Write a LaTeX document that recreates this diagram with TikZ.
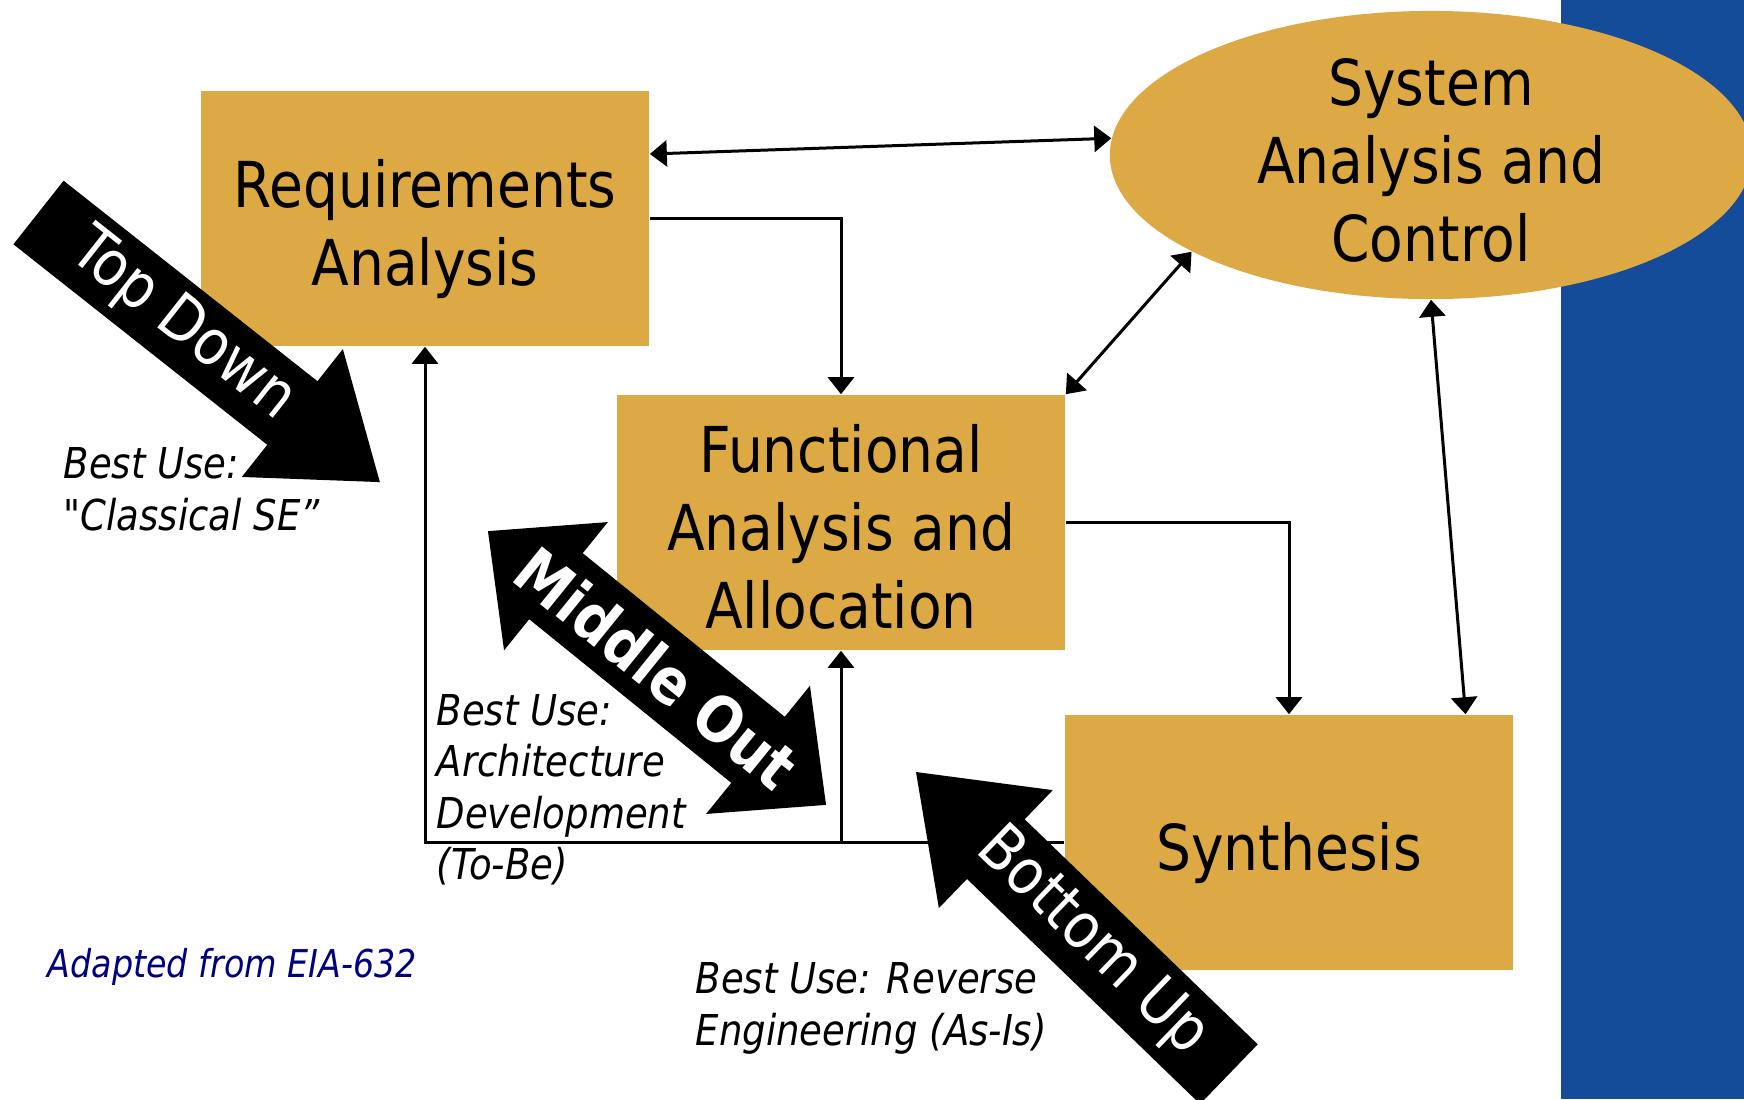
\documentclass[tikz,border=0pt]{standalone}
\usepackage{fontspec}
\setmainfont{DejaVu Sans}[FakeStretch=0.87]
\newfontfamily\plainfont{DejaVu Sans}[FakeStretch=0.87]
\usetikzlibrary{arrows.meta,shapes.geometric}
\definecolor{gold}{RGB}{220,169,69}
\definecolor{barblue}{RGB}{21,76,153}
\definecolor{navy}{RGB}{0,0,128}
\newcommand{\topstrut}{\rule{0pt}{19.5pt}}
\newcommand{\botstrut}{\rule[-3.5pt]{0pt}{3.5pt}}
\begin{document}
\begin{tikzpicture}[x=0.01cm, y=-0.01cm,
  every node/.style={font=\fontsize{18}{22.2}\selectfont},
  block/.style={fill=gold,minimum width=4.48cm,minimum height=2.55cm,align=center,inner sep=0pt},
  oval/.style={ellipse,fill=gold,minimum width=6.42cm,minimum height=2.88cm,align=center,
    inner xsep=0pt,inner ysep=-0.2cm},
  link/.style={line width=0.03cm},
  note/.style={font=\fontsize{12.1}{14.65}\selectfont\itshape,align=left,anchor=west,inner sep=0pt},
  fatlab/.style={text=white,inner sep=0pt},
  >={Triangle[length=0.17cm,width=0.26cm]}]
  \useasboundingbox (0,0) rectangle (1744,1099);
  \fill[white] (0,0) rectangle (1744,1099);
  \fill[barblue] (1561,0) rectangle (1744,1099);
  % process boxes
  \node[oval]  (sac) at (1431,155)   {\topstrut System\\Analysis and\\Control\botstrut};
  \node[block] (req) at (425,218.5)  {\topstrut Requirements\\Analysis\botstrut};
  \node[block] (fun) at (841,522.5)  {\topstrut Functional\\Analysis and\\Allocation\botstrut};
  \node[block] (syn) at (1289,842.5) {\topstrut Synthesis\botstrut};
  % connectors
  \draw[link,<->] (req.16) -- (sac.177);
  \draw[link,->] (req.east) -| (fun.north);
  \draw[link,<->] (sac.202) -- (fun.north east);
  \draw[link,<->] (sac.south) -- (syn.36);
  \draw[link,->] (fun.east) -| (syn.north);
  \draw[link,->] (syn.west) -| (req.south);
  \draw[link,->] (fun.south |- syn.west) -- (fun.south);
  % notes
  \node[note] (tdnote) at (63,489.5) {Best Use:\\{\plainfont"}Classical SE”};
  \node[note] (monote) at (436,790) {Best Use:\\Architecture\\Development\\(To-Be)};
  \node[note] (bunote) at (695,1008.5) {Best Use: Reverse\\Engineering (As-Is)};
  \node[note,font=\fontsize{10.9}{13}\selectfont\itshape,text=navy] (src) at (47,967) {Adapted from EIA-632};
  % top down
  \begin{scope}[shift={(38.5,212.5)},rotate=-38.3]
    \fill (0,-40.5) -- (323.5,-40.5) -- (323.5,-81.5) -- (435,0) -- (323.5,81.5) -- (323.5,40.5) -- (0,40.5) -- cycle;
    \node[fatlab,rotate=-38.3] (td) at (183,0) {Top Down};
  \end{scope}
  % middle out
  \begin{scope}[shift={(657,668)},rotate=-39]
    \fill (-217.5,0) -- (-130,-82.5) -- (-130,-42.5) -- (130,-42.5) -- (130,-82.5) -- (217.5,0)
      -- (130,82.5) -- (130,42.5) -- (-130,42.5) -- (-130,82.5) -- cycle;
    \node[fatlab,font=\fontsize{18}{22.2}\selectfont\bfseries,rotate=-39] (mo) at (0,0) {Middle Out};
  \end{scope}
  % bottom up
  \begin{scope}[shift={(916,772)},rotate=-44]
    \fill (0,0) -- (111,-82) -- (111,-41.5) -- (435,-41.5) -- (435,41.5) -- (111,41.5) -- (111,82) -- cycle;
    \node[fatlab,rotate=-44] (bu) at (245,0) {Bottom Up};
  \end{scope}
\end{tikzpicture}
\end{document}
